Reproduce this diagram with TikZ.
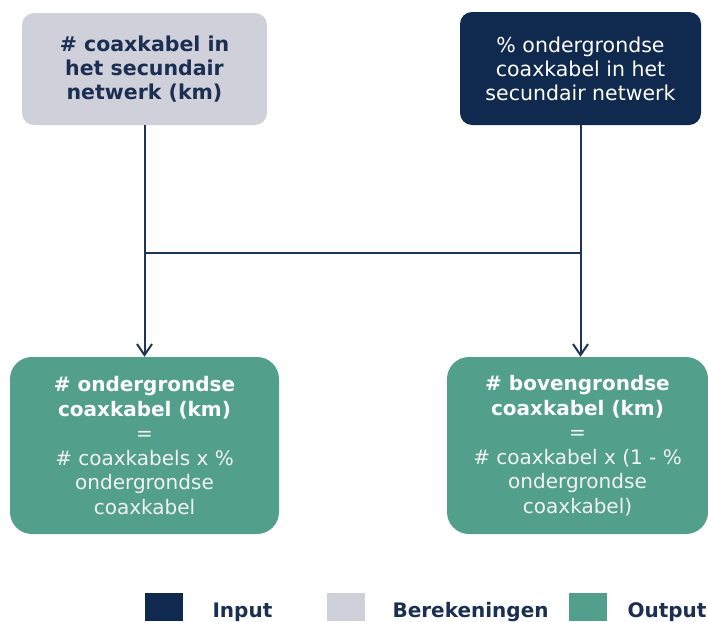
\documentclass[tikz,border=0pt]{standalone}
\usepackage{fontspec}
\setmainfont{DejaVu Sans}
\usetikzlibrary{arrows.meta}
\definecolor{navy}{HTML}{0F2A4E}
\definecolor{calc}{HTML}{D0D0DA}
\definecolor{outg}{HTML}{52A08C}
\definecolor{lineblue}{HTML}{1F3556}
\definecolor{navytext}{HTML}{1B2F52}
\definecolor{softwhite}{HTML}{F2F2F2}
\tikzset{
  box/.style={rectangle, rounded corners=12pt, align=center, inner sep=0pt,
    font=\fontsize{20.5}{24}\selectfont},
  inbox/.style={box, fill=navy, text=white},
  calcbox/.style={box, fill=calc, text=navytext, font=\fontsize{20.5}{24}\selectfont\bfseries},
  outbox/.style={box, fill=outg, text=white, rounded corners=22pt, font=\fontsize{20}{24.5}\selectfont},
  conn/.style={draw=lineblue, line width=2pt},
  arr/.style={conn, -{Straight Barb[length=11pt,width=15pt,line width=2pt]}},
  legsq/.style={rectangle, inner sep=0pt, minimum width=38pt, minimum height=28pt},
  legtxt/.style={anchor=base west, text=navytext, font=\fontsize{20}{24}\selectfont\bfseries}
}
\begin{document}
\begin{tikzpicture}[x=1pt,y=-1pt]
\useasboundingbox[fill=white] (0,0) rectangle (708,621);
\node[calcbox, minimum width=245pt, minimum height=112pt] (tl) at (144.5,69)
  {\# coaxkabel in\\het secundair\\netwerk (km)};
\node[inbox, minimum width=241pt, minimum height=113pt] (tr) at (580.5,68.5)
  {\% ondergrondse\\coaxkabel in het\\secundair netwerk};
\node[outbox, minimum width=269pt, minimum height=177pt] (bl) at (144.5,445.5)
  {\textbf{\# ondergrondse}\\\textbf{coaxkabel (km)}\\\textcolor{softwhite}{=}\\\textcolor{softwhite}{\# coaxkabels x \%}\\\textcolor{softwhite}{ondergrondse}\\\textcolor{softwhite}{coaxkabel}};
\node[outbox, minimum width=261pt, minimum height=177pt] (br) at (577.5,445.5)
  {\textbf{\# bovengrondse}\\\textbf{coaxkabel (km)}\\\textcolor{softwhite}{=}\\\textcolor{softwhite}{\# coaxkabel x (1 - \%}\\\textcolor{softwhite}{ondergrondse}\\\textcolor{softwhite}{coaxkabel)}};
\coordinate (jl) at (144.5,253);
\coordinate (jr) at (580.5,253);
\draw[arr] (tl.south) -- (bl.north);
\draw[arr] (tr.south) -- (tr.south |- br.north);
\draw[conn] (jl) -- (jr);
% legend
\node[legsq, fill=navy] (lin) at (164,607) {};
\node[legtxt] (tin) at (209,617) {Input};
\node[legsq, fill=calc] (lcalc) at (346,607) {};
\node[legtxt] (tcalc) at (389,617) {Berekeningen};
\node[legsq, fill=outg] (lout) at (588,607) {};
\node[legtxt] (tout) at (624,617) {Output};
\end{tikzpicture}
\end{document}
